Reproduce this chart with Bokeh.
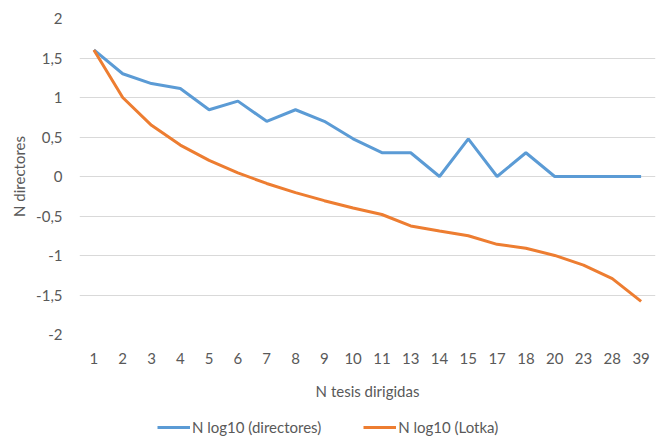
from bokeh.plotting import figure
from bokeh.models import (FactorRange, Range1d, FixedTicker, CustomJSTickFormatter,
                          Legend, LegendItem, ColumnDataSource)
from bokeh.layouts import column
from bokeh.embed import file_html
from bokeh.resources import INLINE

categories = ["1", "2", "3", "4", "5", "6", "7", "8", "9", "10", "11", "13",
              "14", "15", "17", "18", "20", "23", "28", "39"]
directores = [1.602, 1.301, 1.176, 1.114, 0.845, 0.954, 0.699, 0.845, 0.699, 0.477,
              0.301, 0.301, 0.0, 0.477, 0.0, 0.301, 0.0, 0.0, 0.0, 0.0]
lotka = [1.602, 1.0, 0.648, 0.398, 0.204, 0.046, -0.088, -0.204, -0.306, -0.398,
         -0.481, -0.626, -0.690, -0.750, -0.859, -0.908, -0.999, -1.121, -1.292, -1.580]
y_ticks = [-2, -1.5, -1, -0.5, 0, 0.5, 1, 1.5, 2]
series_labels = ["N log10 (directores)", "N log10 (Lotka)"]

FONT = "Lato"
FS = "15px"
TXT = "#595959"
BLUE = "#5B9BD5"
ORANGE = "#ED7D31"

src = ColumnDataSource(dict(x=categories, d=directores, l=lotka))

p = figure(width=656, height=402, output_backend="svg", toolbar_location=None,
           x_range=FactorRange(factors=categories, range_padding=0),
           y_range=Range1d(-2, 2),
           min_border_left=79, min_border_right=1, min_border_top=18, min_border_bottom=65)

p.line("x", "d", source=src, line_color=BLUE, line_width=3)
p.line("x", "l", source=src, line_color=ORANGE, line_width=3)

p.outline_line_color = None
p.xgrid.grid_line_color = None
p.ygrid.grid_line_color = "#D9D9D9"
p.ygrid.grid_line_width = 1

p.yaxis.ticker = FixedTicker(ticks=y_ticks)
p.yaxis.formatter = CustomJSTickFormatter(code="return tick.toString().replace('.', ',');")

for ax in (p.xaxis[0], p.yaxis[0]):
    ax.axis_line_color = None
    ax.major_tick_line_color = None
    ax.minor_tick_line_color = None
    ax.major_label_text_font = FONT
    ax.major_label_text_font_size = FS
    ax.major_label_text_color = TXT
    ax.axis_label_text_font = FONT
    ax.axis_label_text_font_size = FS
    ax.axis_label_text_color = TXT
    ax.axis_label_text_font_style = "normal"

p.xaxis.axis_label = "N tesis dirigidas"
p.yaxis.axis_label = "N directores"
p.xaxis.major_label_standoff = 12
p.xaxis.axis_label_standoff = 15
p.yaxis.major_label_standoff = 11
p.yaxis.axis_label_standoff = 5

# Legend strip (same series, drawn off-range so only the legend shows)
lg = figure(width=656, height=38, output_backend="svg", toolbar_location=None,
            x_range=FactorRange(factors=categories, range_padding=0),
            y_range=Range1d(10, 11), x_axis_type=None, y_axis_type=None,
            min_border=0)
lg.outline_line_color = None
lg.grid.visible = False
lr1 = lg.line("x", "d", source=src, line_color=BLUE, line_width=3)
lr2 = lg.line("x", "l", source=src, line_color=ORANGE, line_width=3)

legend = Legend(items=[LegendItem(label=series_labels[0], renderers=[lr1]),
                       LegendItem(label=series_labels[1], renderers=[lr2])],
                orientation="horizontal", location=(78, 3))
legend.border_line_color = None
legend.background_fill_alpha = 0
legend.label_text_font = FONT
legend.label_text_font_size = FS
legend.label_text_color = TXT
legend.glyph_width = 33
legend.label_standoff = 2
legend.spacing = 42
legend.padding = 0
legend.margin = 0
lg.add_layout(legend, "center")

open("out.html", "w").write(file_html(column(p, lg, spacing=0), INLINE))
